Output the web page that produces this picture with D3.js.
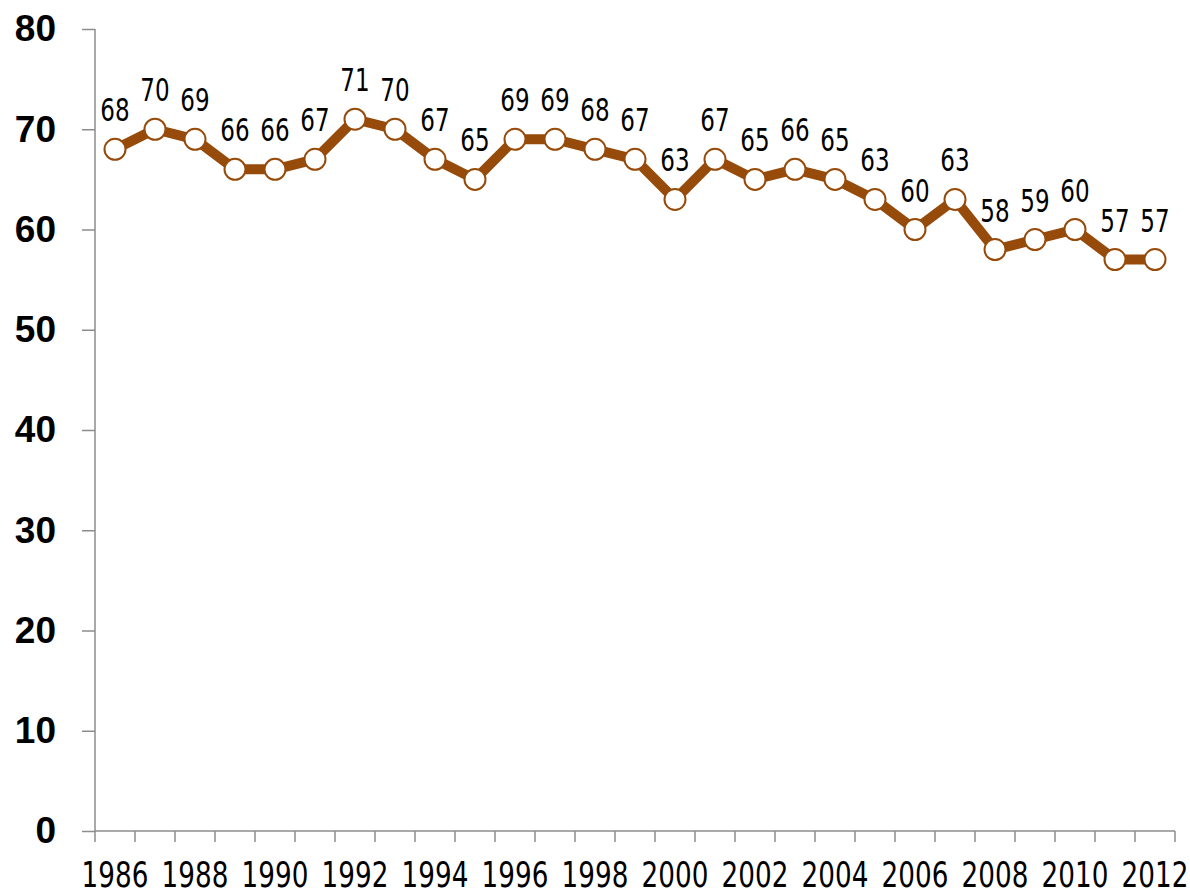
<!DOCTYPE html>
<html>
<head>
<meta charset="utf-8">
<script src="https://cdn.jsdelivr.net/npm/d3@7"></script>
<style>
  body { margin: 0; background: #fff; }
  .narrow { font-family: "DejaVu Sans", sans-serif; }
</style>
</head>
<body>
<script>
// values
var years = d3.range(1986, 2013);
var values = [68, 70, 69, 66, 66, 67, 71, 70, 67, 65, 69, 69, 68, 67, 63, 67, 65, 66, 65, 63, 60, 63, 58, 59, 60, 57, 57];
var yTicks = [0, 10, 20, 30, 40, 50, 60, 70, 80];
var xLabels = years.filter(function(y) { return y % 2 === 0; });

var W = 1190, H = 891;
var mLeft = 95, mRight = 1175, mTop = 29, mBottom = 831;
var brown = "#974b0a", axisGrey = "#8c8c8c";

var svg = d3.select("body").append("svg").attr("width", W).attr("height", H);

var x = d3.scaleBand().domain(years).range([mLeft, mRight]);
var y = d3.scaleLinear().domain([0, 80]).range([mBottom, mTop]);

// y axis
var yAxis = svg.append("g").attr("transform", "translate(" + mLeft + ",0)")
  .call(d3.axisLeft(y).tickValues(yTicks).tickSize(13).tickPadding(26));
yAxis.select(".domain").attr("d", "M0," + mTop + "V" + mBottom);
yAxis.selectAll("line, path").attr("stroke", axisGrey).attr("stroke-width", 1.5);
yAxis.selectAll("text")
  .style("font-family", "Arial, 'Liberation Sans', sans-serif")
  .style("font-weight", "bold").style("font-size", "37px").attr("fill", "#000");

// x axis: ticks on band edges, labels every other year
var edges = years.map(function(d) { return x(d); }).concat([mRight]);
svg.append("line").attr("x1", mLeft).attr("x2", mRight).attr("y1", mBottom).attr("y2", mBottom)
  .attr("stroke", axisGrey).attr("stroke-width", 1.5);
svg.selectAll(".xtick").data(edges).enter().append("line")
  .attr("x1", function(d) { return d; }).attr("x2", function(d) { return d; })
  .attr("y1", mBottom).attr("y2", mBottom + 11)
  .attr("stroke", axisGrey).attr("stroke-width", 1.5);
// condensed look: squeeze the text horizontally
svg.selectAll(".xlab").data(xLabels).enter().append("text")
  .attr("class", "narrow")
  .attr("transform", function(d) {
    return "translate(" + (x(d) + x.bandwidth() / 2) + ",887) scale(0.75,1)";
  })
  .attr("text-anchor", "middle")
  .style("font-size", "35px")
  .text(function(d) { return d; });

// line
var cx = function(d, i) { return x(years[i]) + x.bandwidth() / 2; };
var line = d3.line().x(cx).y(function(d) { return y(d); });
svg.append("path").datum(values).attr("d", line)
  .attr("fill", "none").attr("stroke", brown).attr("stroke-width", 10)
  .attr("stroke-linejoin", "round");

svg.selectAll(".dot").data(values).enter().append("circle")
  .attr("cx", cx).attr("cy", function(d) { return y(d); })
  .attr("r", 10.5).attr("fill", "#fff").attr("stroke", brown).attr("stroke-width", 2);

// data labels
svg.selectAll(".val").data(values).enter().append("text")
  .attr("class", "narrow")
  .attr("transform", function(d, i) {
    return "translate(" + cx(d, i) + "," + (y(d) - 28) + ") scale(0.72,1)";
  })
  .attr("text-anchor", "middle")
  .style("font-size", "32px")
  .text(function(d) { return d; });
</script>
</body>
</html>
